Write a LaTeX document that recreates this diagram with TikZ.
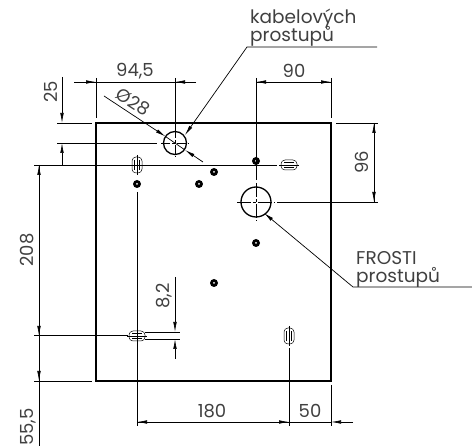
\documentclass[tikz,border=0pt]{standalone}
\usepackage{fontspec}
\setmainfont{Poppins}
\usetikzlibrary{arrows.meta}
\tikzset{
    plate/.style={line width=1.6pt,line join=miter},
    thin line/.style={line width=0.7pt},
    dimtip/.style={line width=0.7pt,-{Latex[length=10pt,width=3.6pt]}},
    hole/.style={circle,draw,line width=1.3pt,inner sep=0pt},
    bolt/.style={circle,fill,inner sep=0pt,minimum size=8pt},
    slot/.style={draw,line width=0.5pt,rounded corners=4pt,inner sep=0pt},
    dim/.style={font=\fontsize{18}{18}\selectfont,inner sep=0pt,text=black!75},
    leadertext/.style={font=\fontsize{18.5}{19}\selectfont,inner sep=0pt,anchor=base west,text=black!75}
}
\begin{document}
\begin{tikzpicture}[x=1pt,y=-1pt]
    \useasboundingbox (0,0) rectangle (472,446);

    % holes
    \node[hole,minimum size=23pt] (hk) at (175,143) {};
    \node[hole,minimum size=30pt] (hf) at (256,202) {};
    \node[bolt] (b1) at (256,161) {};
    \node[bolt] (b2) at (256,243) {};
    \node[bolt] (b3) at (214,172) {};
    \node[bolt] (b4) at (199,184) {};
    \node[bolt] (b5) at (137,184) {};
    \node[bolt] (b6) at (214,283) {};
    \node[slot,minimum width=10pt,minimum height=16pt] (s1) at (137,165) {};
    \node[slot,minimum width=16pt,minimum height=10pt] (s2) at (289,165) {};
    \node[slot,minimum width=16pt,minimum height=10pt] (s3) at (137,336) {};
    \node[slot,minimum width=10pt,minimum height=16pt] (s4) at (289,336) {};
    \foreach \h/\r in {hk/14,hf/19} {
        \draw[line width=0.6pt,dash pattern=on {\r-5}pt off 2pt on 3pt off 2pt] (\h) ++(-\r,0) -- ++(2*\r,0);
        \draw[line width=0.6pt,dash pattern=on {\r-5}pt off 2pt on 3pt off 2pt] (\h) ++(0,-\r) -- ++(0,2*\r);
    }
    \foreach \b in {b1,b2,b3,b4,b5,b6} \fill[white] (\b) circle (1pt);
    \foreach \s in {s1,s4} {
        \draw[line width=0.4pt] (\s) ++(0,-10) -- ++(0,20);
        \draw[line width=0.4pt] (\s) ++(-2.5,-5) -- ++(0,10) ++(5,0) -- ++(0,-10);
    }
    \foreach \s in {s2,s3} {
        \draw[line width=0.4pt] (\s) ++(-10,0) -- ++(20,0);
        \draw[line width=0.4pt] (\s) ++(-5,-2.5) -- ++(10,0) ++(0,5) -- ++(-10,0);
    }

    % plate
    \coordinate (tl) at (96,123); \coordinate (br) at (331,381);
    \draw[plate] (tl) rectangle (br);

    % labels
    \node[dim] (t945) at (135,71) {94,5};
    \node[dim] (t90) at (294,71) {90};
    \node[dim,rotate=90] (t25) at (51,92) {25};
    \node[dim,rotate=90] (t96) at (362,162) {96};
    \node[dim,rotate=90] (t208) at (27,250) {208};
    \node[dim,rotate=90] (t82) at (164,296) {8,2};
    \node[dim,rotate=90] (t555) at (28,427) {55,5};
    \node[dim] (t180) at (212,411) {180};
    \node[dim] (t50) at (310,411) {50};
    \node[dim,rotate=-33] (t28) at (133,102) {Ø28};
    \node[leadertext] (tk1) at (250,24) {kabelových};
    \node[leadertext] (tk2) at (250,42) {prostupů};
    \node[leadertext] (tf1) at (356,265) {FROSTI};
    \node[leadertext] (tf2) at (356,283) {prostupů};

    % 94,5 and 90
    \coordinate (a1) at (96,78); \coordinate (a2) at (96,118);
    \coordinate (a3) at (175,78); \coordinate (a4) at (175,131);
    \coordinate (a5) at (74,82); \coordinate (a6) at (196,82);
    \coordinate (a7) at (96,82); \coordinate (a8) at (175,82);
    \draw[thin line] (a1) -- (a2); \draw[thin line] (a3) -- (a4); \draw[thin line] (a5) -- (a6);
    \draw[dimtip] (a5) -- (a7); \draw[dimtip] (a6) -- (a8);
    \coordinate (c1) at (256,78); \coordinate (c2) at (256,180);
    \coordinate (c3) at (331,78); \coordinate (c4) at (331,118);
    \coordinate (c5) at (256,82); \coordinate (c6) at (331,82);
    \draw[thin line] (c1) -- (c2); \draw[thin line] (c3) -- (c4);
    \draw[dimtip] (c5) -- (c6); \draw[dimtip] (c6) -- (c5);

    % 25
    \coordinate (d1) at (62,77); \coordinate (d2) at (62,165);
    \coordinate (d3) at (62,123); \coordinate (d4) at (62,143);
    \coordinate (d5) at (57,123); \coordinate (d6) at (92,123);
    \coordinate (d7) at (57,143); \coordinate (d8) at (157,143);
    \draw[thin line] (d5) -- (d6); \draw[thin line] (d7) -- (d8);
    \draw[dimtip] (d1) -- (d3); \draw[dimtip] (d2) -- (d4);

    % 96
    \coordinate (e1) at (336,123); \coordinate (e2) at (378,123);
    \coordinate (e3) at (277,202); \coordinate (e4) at (378,202);
    \coordinate (e5) at (374,123); \coordinate (e6) at (374,202);
    \draw[thin line] (e1) -- (e2); \draw[thin line] (e3) -- (e4);
    \draw[dimtip] (e5) -- (e6); \draw[dimtip] (e6) -- (e5);

    % 208 and 55,5
    \coordinate (f1) at (34,165); \coordinate (f2) at (277,165);
    \coordinate (f3) at (34,336); \coordinate (f4) at (128,336);
    \coordinate (f5) at (34,381); \coordinate (f6) at (92,381);
    \coordinate (f7) at (39,165); \coordinate (f8) at (39,336);
    \coordinate (f9) at (39,381); \coordinate (f10) at (39,446);
    \draw[thin line] (f1) -- (f2); \draw[line width=1pt] (f3) -- (f4); \draw[thin line] (f5) -- (f6);
    \draw[dimtip] (f8) -- (f7); \draw[dimtip] (f7) -- (f8);
    \draw[thin line] (f8) -- (f10);
    \draw[dimtip] (f8) -- (f9);

    % 8,2
    \coordinate (g1) at (145,332); \coordinate (g2) at (180,332);
    \coordinate (g3) at (145,339); \coordinate (g4) at (180,339);
    \coordinate (g5) at (175,277); \coordinate (g6) at (175,332);
    \coordinate (g7) at (175,359); \coordinate (g8) at (175,339);
    \draw[thin line] (g1) -- (g2); \draw[thin line] (g3) -- (g4);
    \draw[dimtip] (g5) -- (g6); \draw[dimtip] (g7) -- (g8);

    % 180 and 50
    \coordinate (h1) at (137,192); \coordinate (h2) at (137,426);
    \coordinate (h3) at (289,348); \coordinate (h4) at (289,426);
    \coordinate (h5) at (331,385); \coordinate (h6) at (331,426);
    \coordinate (h7) at (137,422); \coordinate (h8) at (289,422);
    \coordinate (h9) at (331,422); \coordinate (h10) at (353,422);
    \draw[thin line] (h1) -- (h2); \draw[thin line] (h3) -- (h4); \draw[thin line] (h5) -- (h6);
    \draw[dimtip] (h8) -- (h7); \draw[dimtip] (h7) -- (h8);
    \draw[thin line] (h8) -- (h9);
    \draw[dimtip] (h10) -- (h9);

    % leaders
    \coordinate (k1) at (104,96); \coordinate (k2) at (165.5,136.5);
    \coordinate (k3) at (203,162); \coordinate (k4) at (185,150);
    \draw[dimtip] (k1) -- (k2); \draw[dimtip] (k3) -- (k4);
    \draw[thin line] (k2) -- (k4);
    \coordinate (k5) at (377,47); \coordinate (k6) at (247,47); \coordinate (k7) at (185,135);
    \draw[dimtip] (k5) -- (k6) -- (k7);
    \coordinate (k8) at (472,287); \coordinate (k9) at (353,287); \coordinate (k10) at (264,213);
    \draw[dimtip] (k8) -- (k9) -- (k10);
\end{tikzpicture}
\end{document}
